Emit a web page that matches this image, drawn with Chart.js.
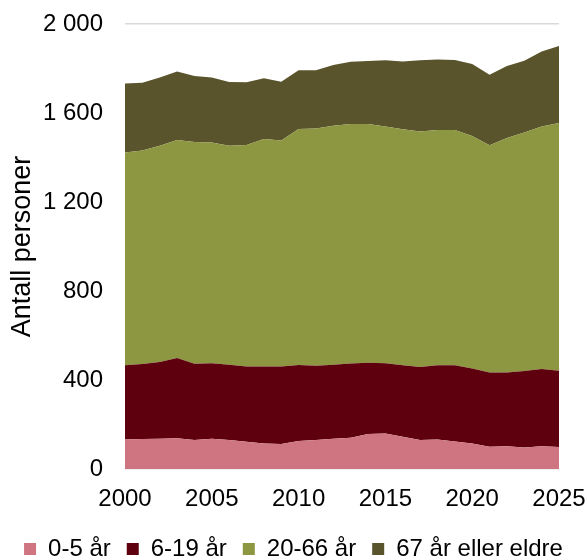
<!DOCTYPE html>
<html>
<head>
<meta charset="utf-8">
<script src="https://cdn.jsdelivr.net/npm/chart.js@4"></script>
<style>
    html, body { margin: 0; padding: 0; background: #fff; }
    #wrap { width: 587px; height: 560px; }
</style>
</head>
<body>
<div id="wrap"><canvas id="areaChart"></canvas></div>
<script>
/* ======= Data ======= */
const years = [
    2000, 2001, 2002, 2003, 2004, 2005, 2006, 2007, 2008, 2009, 2010, 2011, 2012,
    2013, 2014, 2015, 2016, 2017, 2018, 2019, 2020, 2021, 2022, 2023, 2024, 2025
];
const age0to5 = [133, 135, 136, 138, 130, 136, 130, 123, 115, 112, 126, 130, 136, 141, 157, 160, 145, 130, 133, 124, 115, 100, 102, 97, 102, 99];
const age6to19 = [333, 337, 345, 361, 343, 339, 339, 338, 346, 349, 341, 334, 333, 333, 321, 315, 321, 328, 333, 342, 337, 334, 332, 343, 347, 343];
const age20to66 = [956, 959, 972, 980, 997, 992, 984, 995, 1022, 1015, 1061, 1066, 1074, 1077, 1073, 1064, 1061, 1059, 1058, 1058, 1045, 1021, 1054, 1072, 1090, 1113];
const age67plus = [311, 305, 307, 307, 296, 293, 286, 282, 273, 265, 264, 262, 273, 279, 283, 298, 305, 320, 317, 314, 323, 317, 323, 323, 337, 346];
const yTicks = [0, 400, 800, 1200, 1600, 2000];

const fontFamily = "'Liberation Sans', Arial, sans-serif";

function areaSet(label, data, color, fill) {
    return {
        label: label,
        data: data,
        fill: fill,
        backgroundColor: color,
        borderColor: color,
        borderWidth: 0,
        pointRadius: 0,
        pointHoverRadius: 0,
        tension: 0,
    };
}

function spaced(value) {
    return String(value).replace(/\B(?=(\d{3})+(?!\d))/g, ' ');
}

const ctx = document.getElementById('areaChart');
new Chart(ctx, {
    type: 'line',
    data: {
        labels: years,
        datasets: [
            areaSet('0-5 år', age0to5, '#CF7582', 'origin'),
            areaSet('6-19 år', age6to19, '#5E000E', '-1'),
            areaSet('20-66 år', age20to66, '#8D9640', '-1'),
            areaSet('67 år eller eldre', age67plus, '#59542C', '-1'),
        ],
    },
    options: {
        responsive: true,
        maintainAspectRatio: false,
        animation: false,
        layout: {
            padding: { left: 0, right: 0, top: 24, bottom: -11 },
        },
        plugins: {
            legend: {
                position: 'bottom',
                align: 'center',
                labels: {
                    boxWidth: 12,
                    boxHeight: 12,
                    padding: 16,
                    color: '#000',
                    font: { family: fontFamily, size: 24 },
                },
            },
            tooltip: { enabled: false },
        },
        scales: {
            x: {
                offset: false,
                grid: { display: false },
                border: { display: false },
                afterFit: (scale) => {
                    scale.height = 52;
                    scale.paddingLeft = 0;
                    scale.paddingRight = 28;
                },
                ticks: {
                    autoSkip: false,
                    maxRotation: 0,
                    padding: 8,
                    color: '#000',
                    font: { family: fontFamily, size: 24 },
                    callback: function (value, index) {
                        const year = years[index];
                        return year % 5 === 0 ? String(year) : null;
                    },
                },
            },
            y: {
                stacked: true,
                min: 0,
                max: 2000,
                afterFit: (scale) => {
                    scale.width = 125;
                    scale.paddingTop = 0;
                    scale.paddingBottom = 0;
                },
                afterBuildTicks: (scale) => {
                    scale.ticks = yTicks.map(v => ({ value: v }));
                },
                grid: {
                    color: '#D9D9D9',
                    lineWidth: 1.5,
                    drawTicks: false,
                },
                border: { display: false },
                ticks: {
                    padding: 22,
                    color: '#000',
                    font: { family: fontFamily, size: 24 },
                    callback: (value) => spaced(value),
                },
                title: {
                    display: true,
                    text: 'Antall personer',
                    color: '#000',
                    padding: { top: 6, bottom: 0 },
                    font: { family: fontFamily, size: 27 },
                },
            },
        },
    },
});
</script>
</body>
</html>
